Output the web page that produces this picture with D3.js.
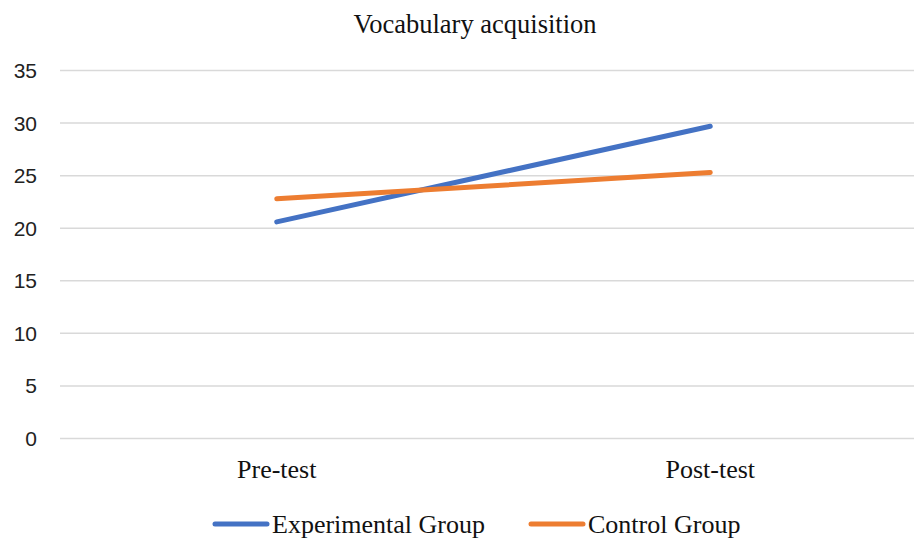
<!DOCTYPE html>
<html>
<head>
<meta charset="utf-8">
<script src="https://cdn.jsdelivr.net/npm/d3@7"></script>
<style>
  body { margin: 0; background: #fff; }
  svg { display: block; }
</style>
</head>
<body>
<svg id="chart" width="914" height="538"></svg>
<script>
// data
var categories = ["Pre-test", "Post-test"];
var experimental = [20.6, 29.7];
var control = [22.8, 25.3];
var yTicks = [0, 5, 10, 15, 20, 25, 30, 35];

var series = [
  {name: "Experimental Group", values: experimental, color: "#4472C4"},
  {name: "Control Group", values: control, color: "#ED7D31"}
];

var width = 914, height = 538;
var plot = {left: 60, right: 927, top: 70.5, bottom: 438.5};

var svg = d3.select("#chart");

var x = d3.scalePoint()
  .domain(categories)
  .range([plot.left, plot.right])
  .padding(0.5);

var y = d3.scaleLinear()
  .domain([0, 35])
  .range([plot.bottom, plot.top]);

// gridlines
svg.append("g")
  .selectAll("line")
  .data(yTicks)
  .enter().append("line")
    .attr("x1", plot.left)
    .attr("x2", width)
    .attr("y1", function(d){ return y(d); })
    .attr("y2", function(d){ return y(d); })
    .style("stroke", "#d9d9d9")
    .style("stroke-width", 1.5);

// y tick labels
svg.append("g")
  .selectAll("text")
  .data(yTicks)
  .enter().append("text")
    .attr("x", 37)
    .attr("y", function(d){ return y(d); })
    .attr("dy", "0.36em")
    .attr("text-anchor", "end")
    .style("font-family", "'Liberation Sans', Arial, sans-serif")
    .style("font-size", "21px")
    .style("fill", "#222")
    .text(function(d){ return d; });

// category labels
svg.append("g")
  .selectAll("text")
  .data(categories)
  .enter().append("text")
    .attr("x", function(d){ return x(d); })
    .attr("y", 478)
    .attr("text-anchor", "middle")
    .style("font-family", "'Liberation Serif', 'Times New Roman', serif")
    .style("font-size", "26px")
    .style("fill", "#111")
    .text(function(d){ return d; });

// title
svg.append("text")
  .attr("x", 475)
  .attr("y", 32.5)
  .attr("text-anchor", "middle")
  .style("font-family", "'Liberation Serif', 'Times New Roman', serif")
  .style("font-size", "26.5px")
  .style("fill", "#111")
  .text("Vocabulary acquisition");

// lines
var line = d3.line()
  .x(function(d, i){ return x(categories[i]); })
  .y(function(d){ return y(d); });

svg.append("g")
  .selectAll("path")
  .data(series)
  .enter().append("path")
    .attr("d", function(s){ return line(s.values); })
    .style("fill", "none")
    .style("stroke", function(s){ return s.color; })
    .style("stroke-width", 5)
    .style("stroke-linecap", "round");

// legend
var legendX = [215, 531];
var legend = svg.append("g")
  .selectAll("g")
  .data(series)
  .enter().append("g")
    .attr("transform", function(s, i){ return "translate(" + legendX[i] + ",524)"; });

legend.append("line")
  .attr("x1", 0).attr("x2", 52)
  .attr("y1", 0).attr("y2", 0)
  .style("stroke", function(s){ return s.color; })
  .style("stroke-width", 5)
  .style("stroke-linecap", "round");

legend.append("text")
  .attr("x", 57)
  .attr("y", 9)
  .style("font-family", "'Liberation Serif', 'Times New Roman', serif")
  .style("font-size", "26px")
  .style("fill", "#111")
  .text(function(s){ return s.name; });
</script>
</body>
</html>
